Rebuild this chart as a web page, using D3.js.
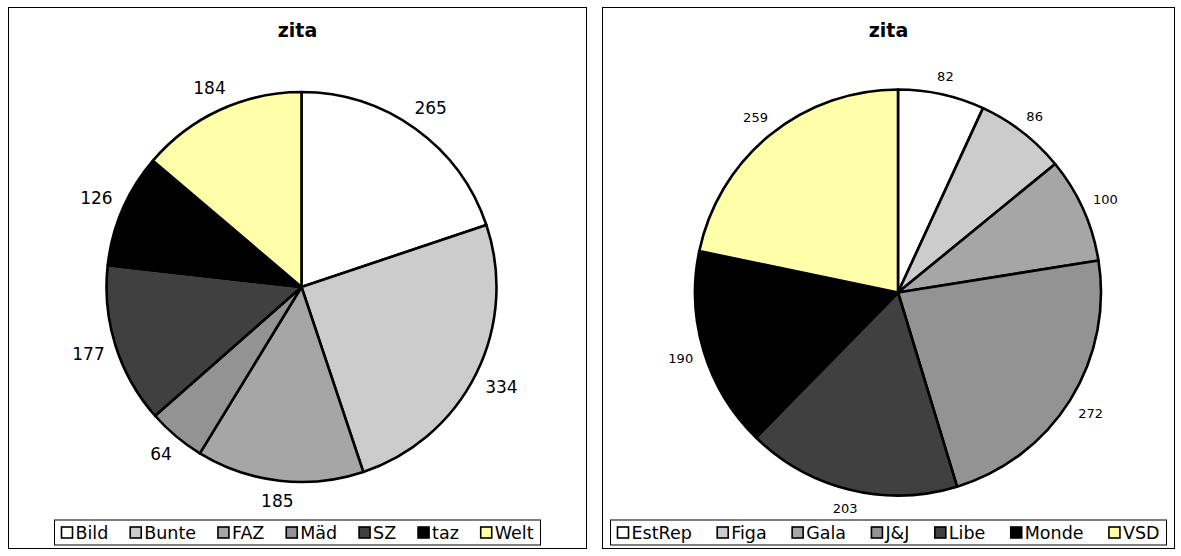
<!DOCTYPE html>
<html><head><meta charset="utf-8">
<script src="https://cdn.jsdelivr.net/npm/d3@7"></script>
<style>body{margin:0;background:#fff}svg{display:block}</style>
</head><body>
<svg id="chart" width="1181" height="556"></svg>
<script>
const title = "zita";
const leftCats = ["Bild","Bunte","FAZ","Mäd","SZ","taz","Welt"];
const leftVals = [265,334,185,64,177,126,184];
const rightCats = ["EstRep","Figa","Gala","J&J","Libe","Monde","VSD"];
const rightVals = [82,86,100,272,203,190,259];
const sliceColors = ["#FFFFFF","#CCCCCC","#A6A6A6","#939393","#404040","#000000","#FFFFAA"];

const svg = d3.select("#chart");
const FONT = "'DejaVu Sans', Verdana, sans-serif";

const panels = [
  {cats:leftCats, vals:leftVals, x0:8.5, x1:586.5, cx:301.5, cy:287, r:195, labelSize:17, legW:486},
  {cats:rightCats, vals:rightVals, x0:602.5, x1:1174.5, cx:898, cy:292.5, r:203, labelSize:13, legW:556}
];

panels.forEach(p => {
  const g = svg.append("g");
  g.append("rect").attr("x",p.x0).attr("y",7.5).attr("width",p.x1-p.x0).attr("height",541)
    .attr("fill","#fff").attr("stroke","#000").attr("stroke-width",1);
  const pcx = (p.x0+p.x1)/2;
  g.append("text").attr("x",pcx).attr("y",37).attr("text-anchor","middle")
    .attr("font-family",FONT).attr("font-weight","bold").attr("font-size",19).text(title);

  const color = d3.scaleOrdinal().domain(p.cats).range(sliceColors);
  const pie = d3.pie().sort(null).value(d => d.v);
  const data = pie(p.cats.map((c,i)=>({c, v:p.vals[i]})));
  const arc = d3.arc().innerRadius(0).outerRadius(p.r);
  const pg = g.append("g").attr("transform",`translate(${p.cx},${p.cy})`);
  pg.selectAll("path").data(data).join("path")
    .attr("d",arc).attr("fill",d=>color(d.data.c))
    .attr("stroke","#000").attr("stroke-width",2.6).attr("stroke-linejoin","round");

  // labels
  const gap = 10.5;
  pg.selectAll("text.lbl").data(data).join("text").attr("class","lbl")
    .attr("font-family",FONT).attr("font-size",p.labelSize).attr("fill","#000")
    .attr("text-anchor","middle").attr("dy","0.36em")
    .text(d=>d.data.v)
    .each(function(d){
      const a=(d.startAngle+d.endAngle)/2, s=Math.sin(a), c=Math.cos(a);
      const hw=this.getComputedTextLength()/2, hh=p.labelSize*0.45;
      const dist=p.r+gap+Math.abs(s)*hw+Math.abs(c)*hh;
      d3.select(this).attr("x",dist*s).attr("y",-dist*c);
    });

  // legend
  const lg = g.append("g");
  const fs = 17.5, sw = 11, swGap = 3, pad = 7;
  const items = lg.selectAll("g.it").data(p.cats).join("g").attr("class","it");
  items.append("rect").attr("width",sw).attr("height",sw)
    .attr("fill",d=>color(d)).attr("stroke","#000").attr("stroke-width",1.6);
  items.append("text").attr("font-family",FONT).attr("font-size",fs).attr("x",sw+swGap).attr("y",sw/2)
    .attr("dy","0.36em").text(d=>d);
  const widths = [];
  items.each(function(){ widths.push(sw+swGap+d3.select(this).select("text").node().getComputedTextLength()); });
  const total = d3.sum(widths);
  const itemGap = (p.legW - 2*pad - total)/(p.cats.length-1);
  const lx0 = pcx - p.legW/2, ly0 = 520, lh = 25;
  lg.insert("rect",":first-child").attr("x",lx0).attr("y",ly0).attr("width",p.legW).attr("height",lh)
    .attr("fill","#fff").attr("stroke","#000").attr("stroke-width",1);
  let x = lx0 + pad;
  items.each(function(d,i){
    d3.select(this).attr("transform",`translate(${x},${ly0+(lh-sw)/2})`);
    x += widths[i] + itemGap;
  });
});
</script>
</body></html>
